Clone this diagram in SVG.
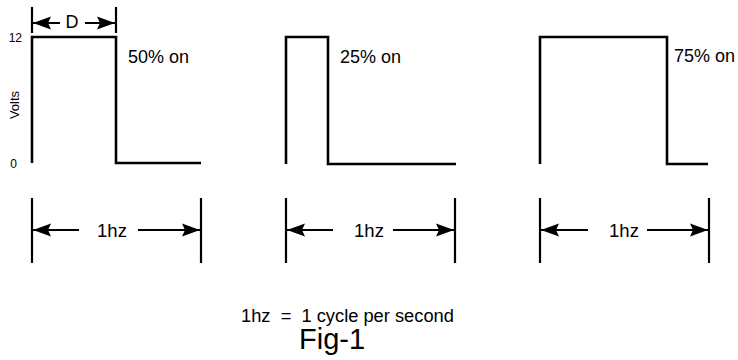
<svg xmlns="http://www.w3.org/2000/svg" width="738" height="360" viewBox="0 0 738 360">
  <defs>
    <marker id="arrow" markerUnits="userSpaceOnUse" markerWidth="20" markerHeight="16" refX="18" refY="8" orient="auto-start-reverse">
      <path d="M0,1.5 L18,8 L0,14.5 L3,8 Z" fill="#000"/>
    </marker>
  </defs>
  <style>
    .wave { fill: none; stroke: #000; stroke-width: 2.6; stroke-linejoin: miter; }
    .tick { fill: none; stroke: #000; stroke-width: 2.2; }
    .dim { fill: none; stroke: #000; stroke-width: 2; }
    .lbl { font-family: "Liberation Sans", Arial, sans-serif; fill: #000; }
  </style>
  <rect width="738" height="360" fill="#fff"/>

  <!-- axis labels -->
  <g id="axis">
    <text class="lbl" x="22" y="42" font-size="12" text-anchor="end">12</text>
    <text class="lbl" x="17" y="168" font-size="12" text-anchor="end">0</text>
    <text class="lbl" font-size="13" text-anchor="middle" transform="translate(19,105) rotate(-90)">Volts</text>
  </g>

  <!-- 50% duty cycle -->
  <g id="wave-50">
    <path class="wave" d="M32,163 V37 H116 V163 H201"/>
    <text class="lbl" x="128" y="63" font-size="18">50% on</text>
  </g>

  <!-- 25% duty cycle -->
  <g id="wave-25">
    <path class="wave" d="M286,164 V37 H328 V164 H456"/>
    <text class="lbl" x="340" y="63" font-size="18">25% on</text>
  </g>

  <!-- 75% duty cycle -->
  <g id="wave-75">
    <path class="wave" d="M540,164 V37 H667 V164 H708"/>
    <text class="lbl" x="674" y="62" font-size="18">75% on</text>
  </g>

  <!-- pulse width dimension -->
  <g id="dim-d">
    <text class="lbl" x="72" y="28" font-size="18" text-anchor="middle">D</text>
  </g>

  <!-- period dimensions -->
  <g id="dim-1">
    <text class="lbl" x="112" y="237" font-size="18.5" text-anchor="middle">1hz</text>
  </g>
  <g id="dim-2">
    <text class="lbl" x="369" y="237" font-size="18.5" text-anchor="middle">1hz</text>
  </g>
  <g id="dim-3">
    <text class="lbl" x="624" y="237" font-size="18.5" text-anchor="middle">1hz</text>
  </g>

  <g id="connectors">
    <!-- D -->
    <line class="tick" x1="32" y1="7" x2="32" y2="33"/>
    <line class="tick" x1="116" y1="7" x2="116" y2="33"/>
    <line class="dim" x1="60" y1="23" x2="33" y2="23" marker-end="url(#arrow)"/>
    <line class="dim" x1="85" y1="23" x2="115" y2="23" marker-end="url(#arrow)"/>
    <!-- period 1 -->
    <line class="tick" x1="32" y1="198" x2="32" y2="263"/>
    <line class="tick" x1="201" y1="198" x2="201" y2="263"/>
    <line class="dim" x1="79" y1="230" x2="33" y2="230" marker-end="url(#arrow)"/>
    <line class="dim" x1="138" y1="230" x2="200" y2="230" marker-end="url(#arrow)"/>
    <!-- period 2 -->
    <line class="tick" x1="286" y1="198" x2="286" y2="263"/>
    <line class="tick" x1="455" y1="198" x2="455" y2="263"/>
    <line class="dim" x1="333" y1="230" x2="287" y2="230" marker-end="url(#arrow)"/>
    <line class="dim" x1="393" y1="230" x2="454" y2="230" marker-end="url(#arrow)"/>
    <!-- period 3 -->
    <line class="tick" x1="540" y1="198" x2="540" y2="263"/>
    <line class="tick" x1="709" y1="198" x2="709" y2="263"/>
    <line class="dim" x1="588" y1="230" x2="541" y2="230" marker-end="url(#arrow)"/>
    <line class="dim" x1="647" y1="230" x2="708" y2="230" marker-end="url(#arrow)"/>
  </g>

  <!-- caption -->
  <g id="caption">
    <text class="lbl" x="241" y="322" font-size="18.3" xml:space="preserve">1hz  =  1 cycle per second</text>
    <text class="lbl" x="299" y="349" font-size="29">Fig-1</text>
  </g>
</svg>
